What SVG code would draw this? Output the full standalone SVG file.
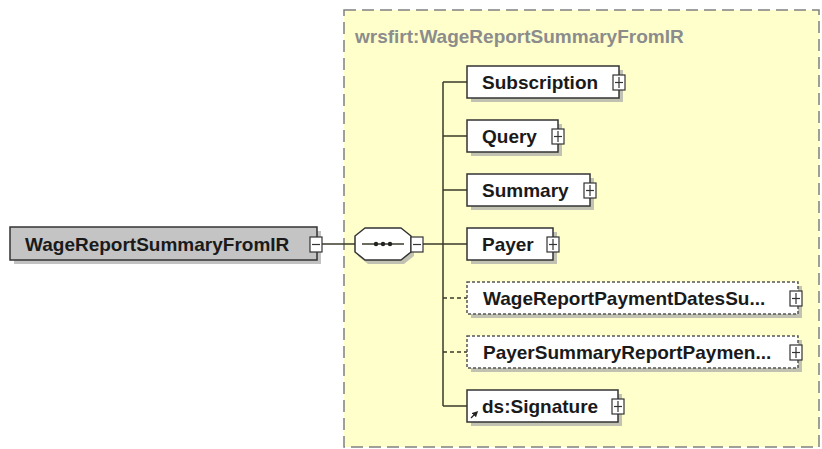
<svg xmlns="http://www.w3.org/2000/svg" width="822" height="449" viewBox="0 0 822 449">
<style>
.bg{fill:#ffffff}
.cplx{fill:#ffffcc;stroke:#808080;stroke-width:1.5;stroke-dasharray:12 6}
.title{font-family:"Liberation Sans",Arial,sans-serif;font-weight:bold;font-size:19px;fill:#8c8c8c}
.lbl{font-family:"Liberation Sans",Arial,sans-serif;font-weight:bold;font-size:19px;fill:#1a1a1a}
.box{fill:#ffffff;stroke:#333333;stroke-width:1.5}
.opt{fill:#ffffff;stroke:#555555;stroke-width:1.5;stroke-dasharray:3 2}
.root{fill:#c4c4c4;stroke:#333333;stroke-width:1.5}
.shd{fill:#a8a8a8;opacity:0.7}
.pm{fill:#ffffff;stroke:#333333;stroke-width:1.2}
.pmline{stroke:#333333;stroke-width:1.2;fill:none}
.con{stroke:#3a3a2a;stroke-width:1.5;fill:none}
.cond{stroke:#3a3a2a;stroke-width:1.5;fill:none;stroke-dasharray:4 3}
</style>
<defs>
<marker id="ar" markerWidth="6" markerHeight="6" refX="3" refY="3" orient="auto" markerUnits="userSpaceOnUse">
<path d="M0,0 L6,3 L0,6 z" fill="#222"/>
</marker>
</defs>
<rect class="bg" x="0" y="0" width="822" height="449"/>

<g id="complexType">
<rect class="cplx" x="344" y="10" width="475" height="437"/>
<text class="title" x="355" y="43">wrsfirt:WageReportSummaryFromIR</text>
</g>

<g id="connectors">
<line class="con" x1="322" y1="244" x2="355" y2="244"/>
<line class="con" x1="423" y1="244" x2="443" y2="244"/>
<line class="con" x1="443" y1="82" x2="443" y2="406"/>
<line class="con" x1="443" y1="82" x2="467" y2="82"/>
<line class="con" x1="443" y1="136" x2="467" y2="136"/>
<line class="con" x1="443" y1="190" x2="467" y2="190"/>
<line class="con" x1="443" y1="244" x2="467" y2="244"/>
<line class="cond" x1="443" y1="298" x2="467" y2="298"/>
<line class="cond" x1="443" y1="352" x2="467" y2="352"/>
<line class="con" x1="443" y1="406" x2="467" y2="406"/>
</g>

<g id="root">
<rect class="shd" x="14" y="231" width="307" height="33"/>
<rect class="root" x="10" y="227" width="307" height="33"/>
<text class="lbl" x="25" y="251">WageReportSummaryFromIR</text>
<rect class="pm" x="310" y="237" width="12" height="15"/>
<line class="pmline" x1="312" y1="244.5" x2="320" y2="244.5"/>
</g>

<g id="sequence">
<path d="M365,228 L401,228 L411,236 L411,252 L401,260 L365,260 L355,252 L355,236 Z" fill="#a8a8a8" opacity="0.7" transform="translate(3,4)"/>
<path class="box" stroke-linejoin="round" d="M365,228 L401,228 L411,236 L411,252 L401,260 L365,260 L355,252 L355,236 Z"/>
<line class="con" x1="362" y1="244" x2="404" y2="244"/>
<circle cx="376" cy="244" r="2.2" fill="#222"/>
<circle cx="383" cy="244" r="2.2" fill="#222"/>
<circle cx="390" cy="244" r="2.2" fill="#222"/>
<rect class="pm" x="411" y="237" width="12" height="15"/>
<line class="pmline" x1="413" y1="244.5" x2="421" y2="244.5"/>
</g>

<g id="Subscription">
<rect class="shd" x="471" y="70" width="152" height="32"/>
<rect class="box" x="467" y="66" width="152" height="32"/>
<text class="lbl" x="482" y="89">Subscription</text>
<rect class="pm" x="613" y="75" width="12" height="15"/>
<line class="pmline" x1="615" y1="82.5" x2="623" y2="82.5"/><line class="pmline" x1="619" y1="77" x2="619" y2="88"/>
</g>

<g id="Query">
<rect class="shd" x="471" y="124" width="91" height="32"/>
<rect class="box" x="467" y="120" width="91" height="32"/>
<text class="lbl" x="482" y="143">Query</text>
<rect class="pm" x="552" y="129" width="12" height="15"/>
<line class="pmline" x1="554" y1="136.5" x2="562" y2="136.5"/><line class="pmline" x1="558" y1="131" x2="558" y2="142"/>
</g>

<g id="Summary">
<rect class="shd" x="471" y="178" width="123" height="32"/>
<rect class="box" x="467" y="174" width="123" height="32"/>
<text class="lbl" x="482" y="197">Summary</text>
<rect class="pm" x="584" y="183" width="12" height="15"/>
<line class="pmline" x1="586" y1="190.5" x2="594" y2="190.5"/><line class="pmline" x1="590" y1="185" x2="590" y2="196"/>
</g>

<g id="Payer">
<rect class="shd" x="471" y="232" width="86" height="32"/>
<rect class="box" x="467" y="228" width="86" height="32"/>
<text class="lbl" x="482" y="251">Payer</text>
<rect class="pm" x="547" y="237" width="12" height="15"/>
<line class="pmline" x1="549" y1="244.5" x2="557" y2="244.5"/><line class="pmline" x1="553" y1="239" x2="553" y2="250"/>
</g>

<g id="WageReportPaymentDatesSummary">
<rect class="shd" x="471" y="286" width="331" height="32"/>
<rect class="opt" x="467" y="282" width="331" height="32"/>
<text class="lbl" x="483" y="305">WageReportPaymentDatesSu...</text>
<rect class="pm" x="790" y="291" width="12" height="15"/>
<line class="pmline" x1="792" y1="298.5" x2="800" y2="298.5"/><line class="pmline" x1="796" y1="293" x2="796" y2="304"/>
</g>

<g id="PayerSummaryReportPayment">
<rect class="shd" x="471" y="340" width="331" height="32"/>
<rect class="opt" x="467" y="336" width="331" height="32"/>
<text class="lbl" x="483" y="359">PayerSummaryReportPaymen...</text>
<rect class="pm" x="790" y="345" width="12" height="15"/>
<line class="pmline" x1="792" y1="352.5" x2="800" y2="352.5"/><line class="pmline" x1="796" y1="347" x2="796" y2="358"/>
</g>

<g id="dsSignature">
<rect class="shd" x="471" y="394" width="151" height="32"/>
<rect class="box" x="467" y="390" width="151" height="32"/>
<line x1="471" y1="418" x2="476" y2="413" stroke="#222" stroke-width="1.3" marker-end="url(#ar)"/>
<text class="lbl" x="482" y="413">ds:Signature</text>
<rect class="pm" x="612" y="399" width="12" height="15"/>
<line class="pmline" x1="614" y1="406.5" x2="622" y2="406.5"/><line class="pmline" x1="618" y1="401" x2="618" y2="412"/>
</g>
</svg>
